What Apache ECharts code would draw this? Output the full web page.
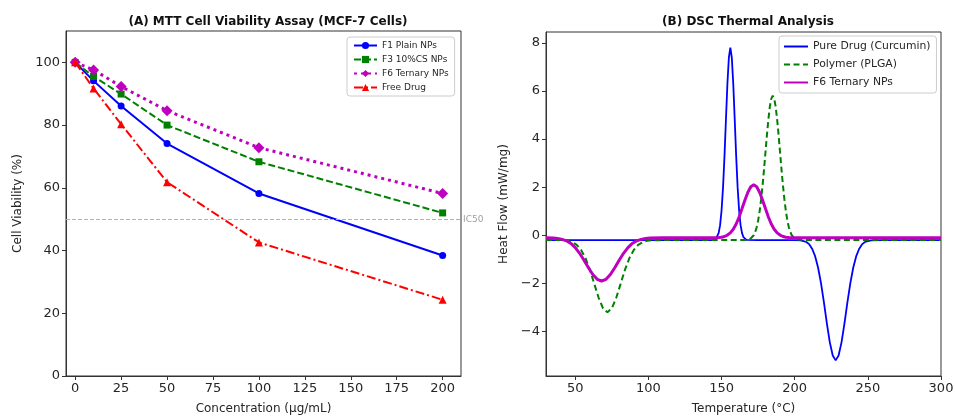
<!DOCTYPE html>
<html>
<head>
<meta charset="utf-8">
<script src="https://cdn.jsdelivr.net/npm/echarts@6/dist/echarts.min.js"></script>
<style>
  html, body { margin: 0; padding: 0; background: #fff; }
  #chart { width: 955px; height: 416px; }
</style>
</head>
<body>
<div id="chart"></div>
<script>
// (A) MTT cell viability, % of control
var conc = [0, 10, 25, 50, 100, 200];
var f1Plain = [100, 94.1, 86.1, 74.1, 58.2, 38.4];
var f3Cs = [100, 95.5, 89.9, 80.0, 68.3, 52.0];
var f6Ternary = [100, 97.6, 92.3, 84.6, 72.8, 58.2];
var freeDrug = [100, 91.7, 80.3, 61.8, 42.6, 24.3];
var concTicks = [0, 25, 50, 75, 100, 125, 150, 175, 200];
var viabTicks = [0, 20, 40, 60, 80, 100];

// (B) DSC curves
var pureT = [30, 140, 144, 145, 146, 147, 148, 149, 150, 151, 152, 153, 154, 155, 156, 157, 158, 159, 160, 161, 162, 163, 164, 165, 166, 167, 168, 175, 200,
  204, 206, 208, 210, 212, 214, 216, 218, 220, 222, 224, 226, 228, 230, 232, 234, 236, 238, 240, 242, 244, 246, 248, 250, 252, 260, 300];
var pureHF = [-0.2, -0.2, -0.2, -0.19, -0.16, -0.08, 0.09, 0.42, 1.03, 1.98, 3.28, 4.81, 6.30, 7.39, 7.8, 7.39, 6.30, 4.81, 3.28, 1.98, 1.03, 0.42, 0.09, -0.08, -0.16, -0.19, -0.2, -0.2, -0.2,
  -0.21, -0.24, -0.28, -0.38, -0.57, -0.88, -1.35, -2.0, -2.80, -3.67, -4.45, -5.0, -5.2, -5.0, -4.45, -3.67, -2.80, -2.0, -1.35, -0.88, -0.57, -0.38, -0.28, -0.24, -0.21, -0.2, -0.2];

var plgaT = [30, 40, 42, 45, 48, 51, 54, 57, 60, 63, 66, 69, 72, 75, 78, 81, 84, 87, 90, 93, 96, 99, 102, 110, 166, 168,
  170, 171, 172, 173, 174, 175, 176, 177, 178, 179, 180, 181, 182, 183, 184, 185, 186, 187, 188, 189, 190, 191, 192, 193, 194, 195, 196, 197, 198, 199, 200, 202, 210, 300];
var plgaHF = [-0.2, -0.2, -0.21, -0.23, -0.29, -0.40, -0.61, -0.95, -1.43, -2.02, -2.60, -3.04, -3.2, -3.04, -2.60, -2.02, -1.43, -0.95, -0.61, -0.40, -0.29, -0.23, -0.21, -0.2, -0.2, -0.18,
  -0.13, -0.08, 0.0, 0.14, 0.33, 0.61, 0.99, 1.47, 2.05, 2.72, 3.44, 4.16, 4.81, 5.34, 5.68, 5.8, 5.68, 5.34, 4.81, 4.16, 3.44, 2.72, 2.05, 1.47, 0.99, 0.61, 0.33, 0.14, 0.0, -0.08, -0.13, -0.18, -0.2, -0.2];

var ternT = [30, 35, 38, 41, 44, 47, 50, 53, 56, 59, 62, 65, 68, 71, 74, 77, 80, 83, 86, 89, 92, 95, 98, 101, 110, 140,
  148, 150, 152, 154, 156, 158, 160, 162, 164, 166, 168, 170, 172, 174, 176, 178, 180, 182, 184, 186, 188, 190, 192, 194, 196, 205, 300];
var ternHF = [-0.1, -0.11, -0.13, -0.17, -0.23, -0.34, -0.51, -0.75, -1.04, -1.35, -1.63, -1.83, -1.9, -1.83, -1.63, -1.35, -1.04, -0.75, -0.51, -0.34, -0.23, -0.17, -0.13, -0.11, -0.1, -0.1,
  -0.09, -0.08, -0.05, 0.01, 0.10, 0.25, 0.47, 0.76, 1.11, 1.47, 1.79, 2.02, 2.1, 2.02, 1.79, 1.47, 1.11, 0.76, 0.47, 0.25, 0.10, 0.01, -0.05, -0.08, -0.09, -0.1, -0.1];
var tempTicks = [50, 100, 150, 200, 250, 300];
var hfTicks = [-4, -2, 0, 2, 4, 6, 8];

function pairs(xs, ys) {
  var out = [];
  for (var i = 0; i < xs.length; i++) out.push([xs[i], ys[i]]);
  return out;
}

var font = 'DejaVu Sans';
var frame = '#333';
var txt = '#262626';

function axisCommon(ticks, name, gap, fmt) {
  return {
    type: 'value',
    name: name,
    nameLocation: 'middle',
    nameGap: gap,
    nameTextStyle: { fontFamily: font, fontSize: 12, color: txt },
    axisLine: { show: true, onZero: false, lineStyle: { color: frame, width: 1 } },
    axisTick: { show: true, length: 4, customValues: ticks, lineStyle: { color: frame } },
    axisLabel: { customValues: ticks, fontFamily: font, fontSize: 13, color: txt, margin: 6, formatter: fmt },
    splitLine: { show: false }
  };
}

function minus(v) {
  return v < 0 ? '\u2212' + Math.abs(v) : String(v);
}

var xA = axisCommon(concTicks, 'Concentration (μg/mL)', 27);
xA.gridIndex = 0; xA.min = -5; xA.max = 210;
var yA = axisCommon(viabTicks, 'Cell Viability (%)', 42);
yA.gridIndex = 0; yA.min = 0; yA.max = 110;
var xB = axisCommon(tempTicks, 'Temperature (°C)', 27);
xB.gridIndex = 1; xB.min = 30; xB.max = 300;
var yB = axisCommon(hfTicks, 'Heat Flow (mW/mg)', 36, minus);
yB.gridIndex = 1; yB.min = -5.85; yB.max = 8.45;

var chart = echarts.init(document.getElementById('chart'));
var option = {
  animation: false,
  textStyle: { fontFamily: font },
  title: [
    { text: '(A) MTT Cell Viability Assay (MCF-7 Cells)', left: 263, top: 11, textAlign: 'center',
      textStyle: { fontFamily: font, fontSize: 12, fontWeight: 'bold', color: '#111' } },
    { text: '(B) DSC Thermal Analysis', left: 743, top: 11, textAlign: 'center',
      textStyle: { fontFamily: font, fontSize: 12, fontWeight: 'bold', color: '#111' } }
  ],
  grid: [
    { left: 66, top: 31, width: 395, height: 345, show: true, borderColor: frame, borderWidth: 1, outerBoundsMode: 'none' },
    { left: 546, top: 32, width: 395, height: 344, show: true, borderColor: frame, borderWidth: 1, outerBoundsMode: 'none' }
  ],
  legend: [
    {
      data: ['F1 Plain NPs', 'F3 10%CS NPs', 'F6 Ternary NPs', 'Free Drug'],
      orient: 'vertical', left: 347, top: 37, itemWidth: 23, itemHeight: 9, itemGap: 5,
      padding: [4, 6, 4, 6], backgroundColor: '#fff', borderColor: '#ccc', borderWidth: 1, borderRadius: 3,
      textStyle: { fontFamily: font, fontSize: 9, color: txt }
    },
    {
      data: ['Pure Drug (Curcumin)', 'Polymer (PLGA)', 'F6 Ternary NPs '],
      orient: 'vertical', left: 779, top: 36, itemWidth: 24, itemHeight: 12, itemGap: 7,
      padding: [5, 6, 5, 4], backgroundColor: '#fff', borderColor: '#ccc', borderWidth: 1, borderRadius: 3,
      itemStyle: { opacity: 0 },
      textStyle: { fontFamily: font, fontSize: 10.8, color: txt }
    }
  ],
  xAxis: [xA, xB],
  yAxis: [yA, yB],
  series: [
    {
      name: 'F1 Plain NPs', type: 'line', xAxisIndex: 0, yAxisIndex: 0, data: pairs(conc, f1Plain),
      symbol: 'circle', symbolSize: 7, color: '#0000ff',
      lineStyle: { color: '#0000ff', width: 2 },
      markLine: {
        silent: true, symbol: 'none', data: [{ yAxis: 50 }],
        lineStyle: { color: '#b0b0b0', type: [4, 2], width: 1 },
        label: { show: true, position: 'end', formatter: 'IC50', color: '#a0a0a0', fontSize: 9, fontFamily: font, distance: 2 }
      }
    },
    {
      name: 'F3 10%CS NPs', type: 'line', xAxisIndex: 0, yAxisIndex: 0, data: pairs(conc, f3Cs),
      symbol: 'rect', symbolSize: 7, color: '#008000',
      lineStyle: { color: '#008000', width: 2, type: [7, 3] }
    },
    {
      name: 'F6 Ternary NPs', type: 'line', xAxisIndex: 0, yAxisIndex: 0, data: pairs(conc, f6Ternary),
      symbol: 'diamond', symbolSize: 11, color: '#bf00bf',
      lineStyle: { color: '#bf00bf', width: 3, type: [3, 4] }
    },
    {
      name: 'Free Drug', type: 'line', xAxisIndex: 0, yAxisIndex: 0, data: pairs(conc, freeDrug),
      symbol: 'triangle', symbolSize: 8, color: '#ff0000',
      lineStyle: { color: '#ff0000', width: 2, type: [9, 3, 2, 3] }
    },
    {
      name: 'Pure Drug (Curcumin)', type: 'line', xAxisIndex: 1, yAxisIndex: 1, data: pairs(pureT, pureHF),
      symbol: 'none', color: '#0000ff', lineStyle: { color: '#0000ff', width: 1.8 }
    },
    {
      name: 'Polymer (PLGA)', type: 'line', xAxisIndex: 1, yAxisIndex: 1, data: pairs(plgaT, plgaHF),
      symbol: 'none', color: '#008000', lineStyle: { color: '#008000', width: 2, type: [6, 3.5] }
    },
    {
      name: 'F6 Ternary NPs ', type: 'line', xAxisIndex: 1, yAxisIndex: 1, data: pairs(ternT, ternHF),
      symbol: 'none', color: '#bf00bf', lineStyle: { color: '#bf00bf', width: 3 }
    }
  ]
};
chart.setOption(option);
</script>
</body>
</html>
